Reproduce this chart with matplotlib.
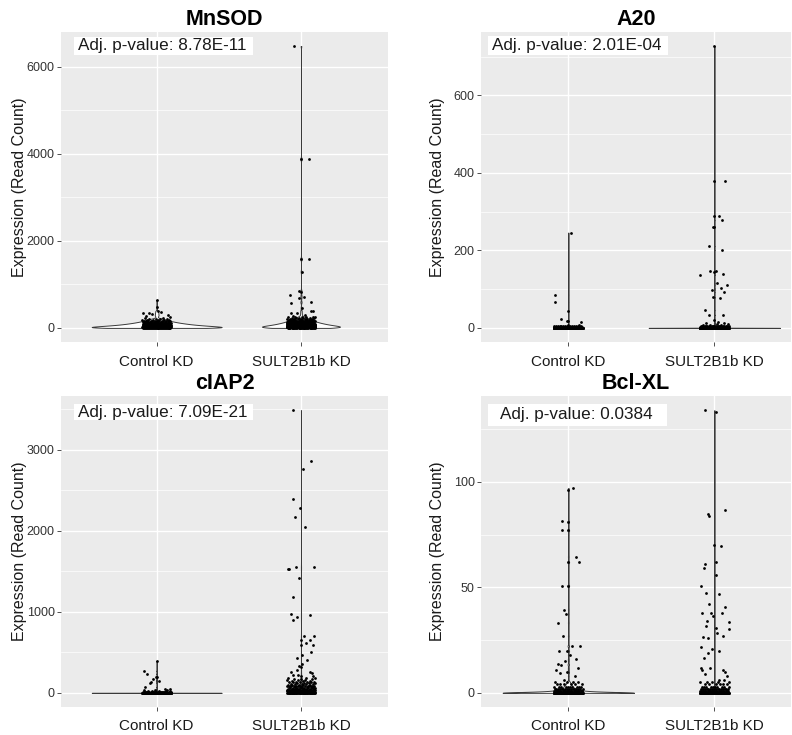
import numpy as np
import matplotlib
matplotlib.use("Agg")
import matplotlib.pyplot as plt
from matplotlib.patches import Rectangle
from matplotlib.ticker import MultipleLocator

plt.rcParams['font.family'] = ['Liberation Sans', 'DejaVu Sans']

groups = ['Control KD', 'SULT2B1b KD']
genes = ['MnSOD', 'A20', 'cIAP2', 'Bcl-XL']
pvalues = ['8.78E-11', '2.01E-04', '7.09E-21', '0.0384']

# read counts: the spread-out points (with their jitter),
# then the saturated cloud near zero as value / how many points
mnsod_ctrl_high = [644, 476, 391, 375, 345, 338, 310, 299, 280, 260]
mnsod_ctrl_high_jit = [0.0, 0.0, 0.01, 0.03, -0.095, -0.055, -0.03, 0.08, -0.075, 0.09]
mnsod_ctrl_low = [0, 10, 20, 30, 40, 50, 60, 70, 80, 90, 100, 110, 120, 130, 140, 150, 160,
                  170, 180, 190, 200, 210, 220]
mnsod_ctrl_low_n = [30, 25, 22, 20, 18, 16, 14, 12, 11, 10, 9, 8, 7, 6, 6, 5, 4, 4, 3, 3, 2,
                    2, 2]

mnsod_sult_high = [6480, 3885, 3885, 1586, 1586, 1295, 858, 830, 759, 720, 690, 605, 583, 467,
                   391, 391, 338, 338, 300, 280, 260]
mnsod_sult_high_jit = [-0.047, 0.0, 0.053, 0.0, 0.053, 0.005, -0.012, 0.0, -0.076, 0.019, -0.014,
                       0.067, -0.072, 0.009, 0.07, 0.085, -0.072, -0.026, 0.03, -0.055, 0.1]
mnsod_sult_low = [0, 10, 20, 30, 40, 50, 60, 70, 80, 90, 100, 110, 120, 130, 140, 150, 160,
                  170, 180, 190, 200, 210, 220, 230, 240, 250]
mnsod_sult_low_n = [30, 26, 23, 21, 19, 17, 15, 14, 13, 12, 11, 10, 9, 8, 8, 7, 6, 6, 5, 5, 4,
                    4, 3, 3, 3, 2]

a20_ctrl_high = [246, 86, 67, 43, 22, 19, 18, 15]
a20_ctrl_high_jit = [0.016, -0.091, -0.089, 0.0, -0.05, -0.007, 0.0, 0.087]
a20_ctrl_low = [0, 1, 2, 3, 4, 5, 6, 8]
a20_ctrl_low_n = [200, 30, 15, 10, 6, 5, 3, 2]

a20_sult_high = [727, 378, 378, 289, 289, 278, 261, 261, 211, 201, 147, 147, 145, 138, 137, 115,
                 110, 102, 99, 92, 80, 78, 46, 34, 33, 20, 16]
a20_sult_high_jit = [0.0, 0.0, 0.07, 0.0, 0.035, 0.055, -0.01, 0.0, -0.036, 0.05, -0.032, 0.012,
                     0.0, 0.06, -0.098, 0.016, 0.084, 0.043, -0.016, 0.068, -0.009, 0.036,
                     -0.062, -0.036, 0.057, 0.0, 0.027]
a20_sult_low = [0, 1, 2, 3, 4, 5, 6, 8, 10, 12]
a20_sult_low_n = [220, 35, 20, 12, 8, 6, 4, 3, 2, 2]

ciap2_ctrl_high = [395, 272, 235, 198, 198, 165, 152, 140, 125, 70, 50, 45, 40]
ciap2_ctrl_high_jit = [0.0, -0.088, -0.067, -0.007, 0.0, -0.026, 0.019, -0.037, -0.049, -0.078,
                       0.056, 0.09, 0.07]
ciap2_ctrl_low = [0, 1, 2, 3, 5, 8, 12, 16, 20, 25, 30]
ciap2_ctrl_low_n = [200, 25, 15, 10, 8, 6, 5, 4, 3, 2, 2]

ciap2_sult_high = [3486, 2855, 2765, 2386, 2283, 2172, 2048, 1554, 1554, 1529, 1529, 1413, 1183,
                   976, 964, 936, 899, 696, 696, 655, 647, 620, 593, 590, 498, 470, 429, 408,
                   360, 337, 320, 288, 263, 255, 247, 220, 215, 210, 205, 180, 180, 180]
ciap2_sult_high_jit = [-0.058, 0.067, 0.014, -0.053, -0.009, -0.044, 0.026, -0.037, 0.092,
                       -0.09, -0.081, -0.016, -0.053, -0.069, 0.06, -0.028, -0.056, 0.019,
                       0.088, 0.0, 0.062, 0.035, 0.0, 0.085, 0.067, 0.005, -0.026, 0.044,
                       0.005, -0.014, 0.0, -0.03, -0.072, 0.062, 0.074, -0.056, -0.021, 0.0,
                       0.085, -0.088, 0.035, 0.095]
ciap2_sult_low = [0, 10, 20, 30, 40, 50, 60, 70, 80, 90, 100, 110, 120, 130, 140, 150, 160, 170]
ciap2_sult_low_n = [45, 16, 13, 11, 10, 9, 8, 7, 6, 6, 5, 5, 4, 4, 3, 3, 3, 3]

bcl_ctrl_high = [97, 96, 81.4, 81, 77, 77, 64.6, 62, 61.9, 50.8, 50.8, 39.5, 37.5, 33.3, 27,
                 22.4, 22, 20, 19.7, 18, 16, 15, 13.7, 13.2, 12, 11, 10, 9.5, 8, 6]
bcl_ctrl_high_jit = [0.032, 0.0, -0.043, 0.0, -0.043, 0.0, 0.055, 0.0, 0.073, -0.043, 0.0,
                     -0.027, -0.016, -0.068, -0.036, 0.077, 0.027, -0.062, -0.012, 0.014,
                     0.055, -0.02, -0.073, -0.048, 0.068, -0.082, -0.009, -0.055, 0.048, -0.027]
bcl_ctrl_low = [0, 1, 2, 3, 4, 5]
bcl_ctrl_low_n = [160, 30, 16, 10, 6, 4]

bcl_sult_high = [134, 133, 86.5, 85, 84, 70, 69.5, 62, 61, 59, 56, 50.8, 47.3, 47, 42, 40.8,
                 38, 38, 37.8, 36.3, 34, 33.5, 31.7, 30.6, 30.3, 28.4, 27, 26.7, 26, 21.9, 20.8,
                 20, 19, 16.5, 12, 11, 12, 11, 10, 9, 8, 6, 6, 5]
bcl_sult_high_jit = [-0.066, 0.009, 0.07, -0.041, -0.036, 0.0, 0.048, 0.012, -0.062, -0.073,
                     0.009, -0.089, -0.06, 0.032, -0.036, 0.075, -0.084, 0.055, -0.025,
                     -0.007, -0.048, 0.1, -0.06, 0.009, 0.1, 0.02, 0.058, -0.077, -0.046,
                     -0.091, -0.018, 0.03, -0.041, -0.07, -0.094, -0.082, -0.027, 0.06, 0.07,
                     -0.062, 0.087, 0.064, 0.03, 0.1]
bcl_sult_low = [0, 1, 2, 3, 4, 5]
bcl_sult_low_n = [150, 28, 16, 10, 6, 4]

panels = [
    (mnsod_ctrl_high, mnsod_ctrl_high_jit, mnsod_ctrl_low, mnsod_ctrl_low_n,
     mnsod_sult_high, mnsod_sult_high_jit, mnsod_sult_low, mnsod_sult_low_n),
    (a20_ctrl_high, a20_ctrl_high_jit, a20_ctrl_low, a20_ctrl_low_n,
     a20_sult_high, a20_sult_high_jit, a20_sult_low, a20_sult_low_n),
    (ciap2_ctrl_high, ciap2_ctrl_high_jit, ciap2_ctrl_low, ciap2_ctrl_low_n,
     ciap2_sult_high, ciap2_sult_high_jit, ciap2_sult_low, ciap2_sult_low_n),
    (bcl_ctrl_high, bcl_ctrl_high_jit, bcl_ctrl_low, bcl_ctrl_low_n,
     bcl_sult_high, bcl_sult_high_jit, bcl_sult_low, bcl_sult_low_n),
]

# layout measured on the reference (pixels -> figure fractions)
W, H = 792, 735
rects = [(61, 32, 388, 342), (481, 32, 791, 342), (61, 396, 388, 707), (481, 396, 791, 707)]
xlims = [(0.337, 2.603), (0.402, 2.525), (0.337, 2.603), (0.402, 2.525)]
major = [2000, 200, 1000, 50]
widths = [(0.9, 0.54), (0.19, 0.9), (0.9, 0.03), (0.9, 0.09)]
boxes = [(0.040, 0.926, 0.547, 0.058), (0.023, 0.926, 0.580, 0.061),
         (0.040, 0.922, 0.547, 0.052), (0.023, 0.904, 0.577, 0.070)]
text_x = [0.051, 0.036, 0.051, 0.061]
ylab_x = [-0.105, -0.115, -0.105, -0.115]


def nrd0(x):
    # same rule of thumb bandwidth that R uses for geom_violin
    x = np.asarray(x, float)
    sd = x.std(ddof=1)
    q75, q25 = np.percentile(x, [75, 25])
    lo = min(sd, (q75 - q25) / 1.34)
    if lo <= 0:
        lo = sd if sd > 0 else 1.0
    return 0.9 * lo * len(x) ** -0.2


def jitter(n):
    # fixed spread for the dense cloud (width +-0.1 like geom_jitter here)
    return [((k + 1) * 0.6180339887 % 1 - 0.5) * 0.2 for k in range(n)]


fig = plt.figure(figsize=(W / 100, H / 100), dpi=100)

for i, gene in enumerate(genes):
    l, t, r, b = rects[i]
    ax = fig.add_axes([l / W, 1 - b / H, (r - l) / W, (b - t) / H])
    ch, cj, cl, cn, sh, sj, sl, sn = panels[i]
    cl_all = list(np.repeat(cl, cn))
    sl_all = list(np.repeat(sl, sn))
    data = [ch + cl_all, sh + sl_all]
    jits = [cj + jitter(len(cl_all)), sj + jitter(len(sl_all))]

    for g in range(2):
        pos = g + 1
        d = np.array(data[g], float)
        ax.scatter(pos + np.array(jits[g]), d, s=4, c='black', linewidths=0, zorder=4)
        fac = nrd0(d) / d.std(ddof=1)
        parts = ax.violinplot([d], positions=[pos], widths=widths[i][g], showextrema=False,
                              points=2000, bw_method=lambda k, f=fac: f)
        for body in parts['bodies']:
            body.set_alpha(None)
            body.set_facecolor('white')
            body.set_edgecolor('#3a3a3a')
            body.set_linewidth(0.7)
            body.set_zorder(3)

    ymax = max(max(data[0]), max(data[1]))
    ax.set_ylim(-0.05 * ymax, 1.05 * ymax)
    ax.set_xlim(*xlims[i])
    ax.set_xticks([1, 2], groups)
    ax.yaxis.set_major_locator(MultipleLocator(major[i]))
    ax.yaxis.set_minor_locator(MultipleLocator(major[i] / 2))

    ax.set_facecolor('#EBEBEB')
    ax.set_axisbelow(True)
    ax.grid(which='major', color='white', linewidth=1.0)
    ax.grid(which='minor', axis='y', color='white', linewidth=0.5)
    for s in ax.spines.values():
        s.set_visible(False)
    ax.tick_params(which='major', length=3, width=0.6, color='#333333')
    ax.tick_params(which='minor', length=0)
    ax.tick_params(axis='y', labelsize=9, labelcolor='#333333', pad=1.5)
    ax.tick_params(axis='x', labelsize=11, labelcolor='#1a1a1a', pad=6)

    ax.set_ylabel('Expression (Read Count)', fontsize=11.5, color='#1a1a1a')
    ax.yaxis.set_label_coords(ylab_x[i], 0.5)
    ax.set_title(gene, fontsize=15.5, fontweight='bold', pad=5)

    bx, by, bw, bh = boxes[i]
    ax.add_patch(Rectangle((bx, by), bw, bh, transform=ax.transAxes, facecolor='white',
                           edgecolor='none', zorder=5))
    ax.text(text_x[i], by + bh / 2, 'Adj. p-value: ' + pvalues[i], transform=ax.transAxes,
            fontsize=12.3, va='center', ha='left', color='#1a1a1a', zorder=6)

fig.savefig('out.png', dpi=100)
